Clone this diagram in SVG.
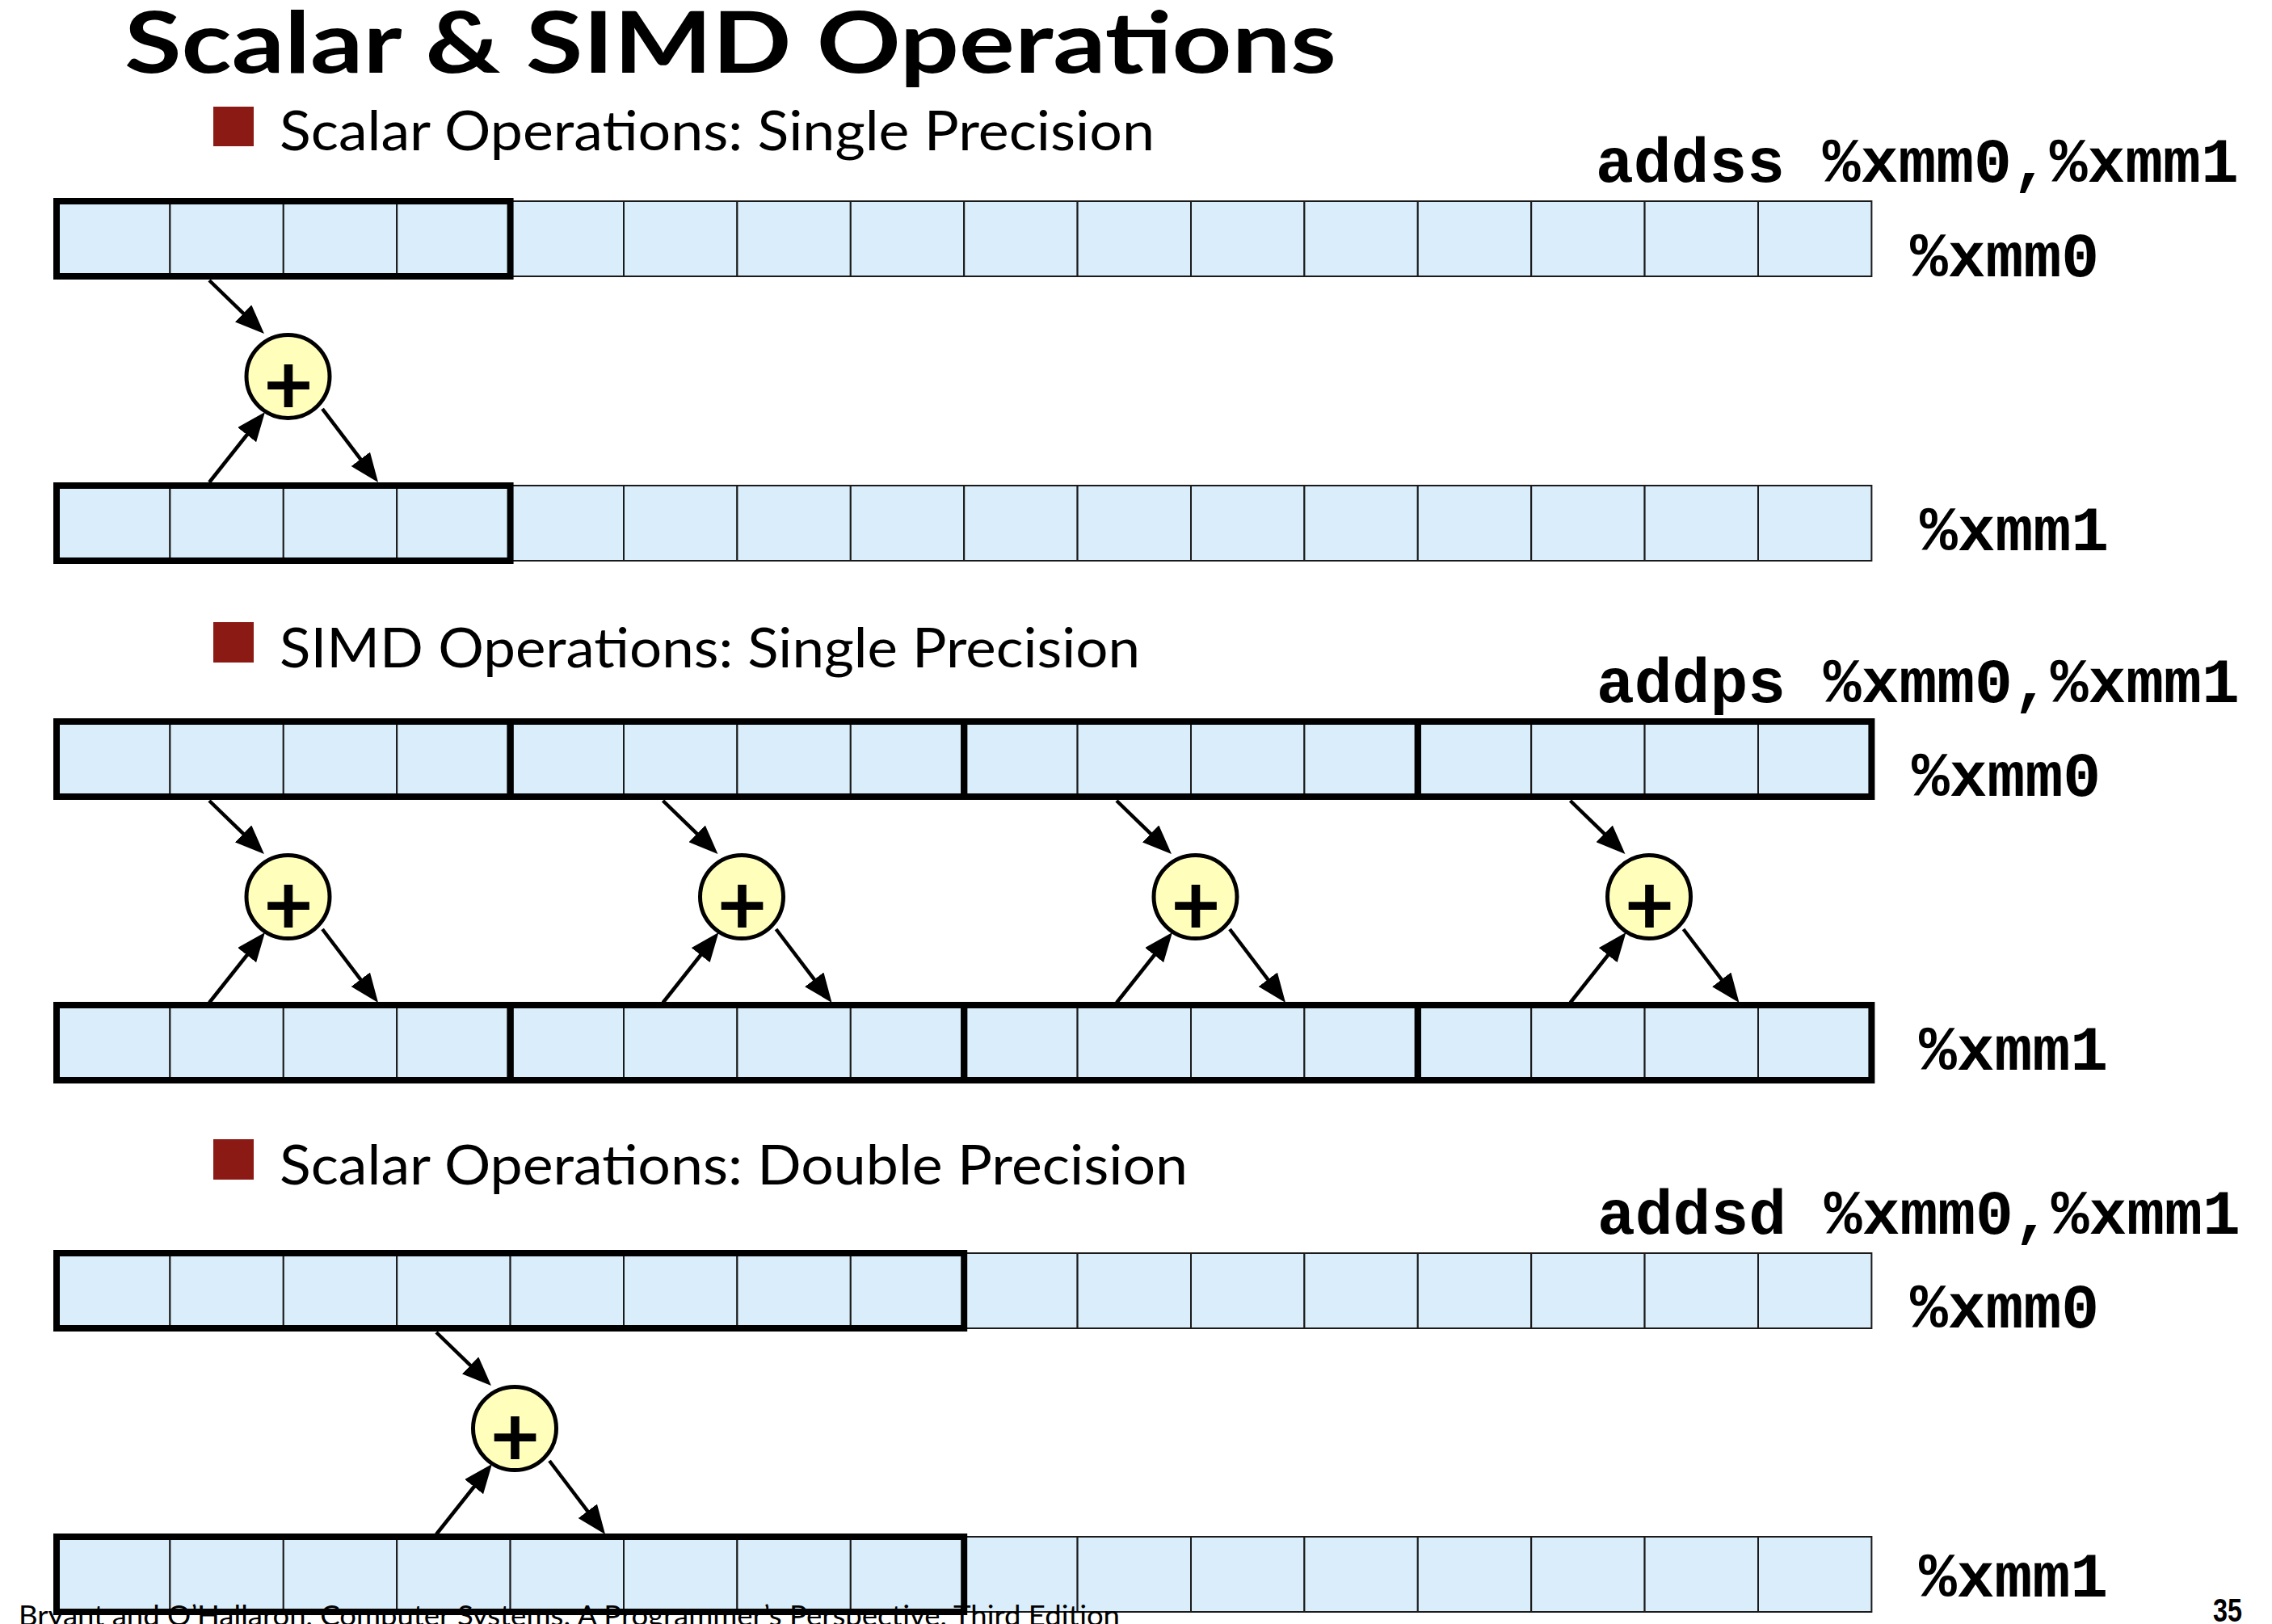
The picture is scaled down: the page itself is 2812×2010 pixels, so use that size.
<svg xmlns="http://www.w3.org/2000/svg" xmlns:xlink="http://www.w3.org/1999/xlink" width="2812" height="2010" viewBox="0 0 2812 2010">
<style>
.title{font-family:Lato,'Open Sans','Liberation Sans',sans-serif;font-weight:700;font-size:106px;fill:#000}
.bt{font-family:Lato,'Open Sans','Liberation Sans',sans-serif;font-size:67px;fill:#000}
.bullet{fill:#8c1a14}
.mono{font-family:'Liberation Mono','Courier New',monospace;font-weight:700;font-size:78px;fill:#000}
.cell{fill:#d9edfb;stroke:#1a1a1a;stroke-width:2}
.thick{fill:none;stroke:#000;stroke-width:8}
.add{fill:#ffffbb;stroke:#000;stroke-width:5}
.plus{font-family:Lato,'Open Sans','Liberation Sans',sans-serif;font-weight:700;font-size:106px;text-anchor:middle;fill:#000}
.arrow{stroke:#000;stroke-width:4.5;fill:none;marker-end:url(#ah)}
.foot{font-family:Lato,'Open Sans','Liberation Sans',sans-serif;font-size:34px;fill:#000}
.pg{font-family:'Liberation Sans',Arial,sans-serif;font-weight:700;font-size:40px;fill:#000}
</style>
<defs>
<marker id="ah" markerWidth="8" markerHeight="6.5" refX="6" refY="3.25" orient="auto" markerUnits="strokeWidth"><path d="M0,0 L8,3.25 L0,6.5 z" fill="#000"/></marker>
<g id="cells">
<rect class="cell" x="70" y="0" width="140.4" height="93"/>
<rect class="cell" x="210.4" y="0" width="140.4" height="93"/>
<rect class="cell" x="350.8" y="0" width="140.4" height="93"/>
<rect class="cell" x="491.2" y="0" width="140.4" height="93"/>
<rect class="cell" x="631.6" y="0" width="140.4" height="93"/>
<rect class="cell" x="772" y="0" width="140.4" height="93"/>
<rect class="cell" x="912.4" y="0" width="140.4" height="93"/>
<rect class="cell" x="1052.8" y="0" width="140.4" height="93"/>
<rect class="cell" x="1193.2" y="0" width="140.4" height="93"/>
<rect class="cell" x="1333.6" y="0" width="140.4" height="93"/>
<rect class="cell" x="1474" y="0" width="140.4" height="93"/>
<rect class="cell" x="1614.4" y="0" width="140.4" height="93"/>
<rect class="cell" x="1754.8" y="0" width="140.4" height="93"/>
<rect class="cell" x="1895.2" y="0" width="140.4" height="93"/>
<rect class="cell" x="2035.6" y="0" width="140.4" height="93"/>
<rect class="cell" x="2176" y="0" width="140.4" height="93"/>
</g>
</defs>
<rect x="0" y="0" width="2812" height="2010" fill="#fff"/>
<text class="title" x="154" y="90" textLength="1500" lengthAdjust="spacingAndGlyphs">Scalar &amp; SIMD Operations</text>

<!-- Section 1 -->
<g id="sec1-heading">
<rect class="bullet" x="264" y="132" width="50" height="49"/>
<text class="bt" x="346" y="186" textLength="1083" lengthAdjust="spacingAndGlyphs">Scalar Operations: Single Precision</text>
<text class="mono" x="1975" y="225">addss %xmm0,%xmm1</text>
</g>
<g id="sec1-xmm0">
<use xlink:href="#cells" href="#cells" y="249"/>
<rect class="thick" x="70" y="249" width="561.6" height="93"/>
<text class="mono" x="2364" y="342">%xmm0</text>
</g>
<g id="sec1-xmm1">
<use xlink:href="#cells" href="#cells" y="601"/>
<rect class="thick" x="70" y="601" width="561.6" height="93"/>
<text class="mono" x="2376" y="681">%xmm1</text>
</g>
<g id="sec1-add">
<circle class="add" cx="356.5" cy="466" r="51.5"/>
<text class="plus" x="357" y="513">+</text>
</g>

<!-- Section 2 -->
<g id="sec2-heading">
<rect class="bullet" x="264" y="770" width="50" height="50"/>
<text class="bt" x="346" y="826" textLength="1065" lengthAdjust="spacingAndGlyphs">SIMD Operations: Single Precision</text>
<text class="mono" x="1976" y="869">addps %xmm0,%xmm1</text>
</g>
<g id="sec2-xmm0">
<use xlink:href="#cells" href="#cells" y="893"/>
<rect class="thick" x="70" y="893" width="561.6" height="93"/>
<rect class="thick" x="631.6" y="893" width="561.6" height="93"/>
<rect class="thick" x="1193.2" y="893" width="561.6" height="93"/>
<rect class="thick" x="1754.8" y="893" width="561.6" height="93"/>
<text class="mono" x="2366" y="985">%xmm0</text>
</g>
<g id="sec2-xmm1">
<use xlink:href="#cells" href="#cells" y="1244"/>
<rect class="thick" x="70" y="1244" width="561.6" height="93"/>
<rect class="thick" x="631.6" y="1244" width="561.6" height="93"/>
<rect class="thick" x="1193.2" y="1244" width="561.6" height="93"/>
<rect class="thick" x="1754.8" y="1244" width="561.6" height="93"/>
<text class="mono" x="2375" y="1324">%xmm1</text>
</g>
<g id="sec2-add0">
<circle class="add" cx="356.5" cy="1110" r="51.5"/>
<text class="plus" x="357" y="1157">+</text>
</g>
<g id="sec2-add1">
<circle class="add" cx="918" cy="1110" r="51.5"/>
<text class="plus" x="918.5" y="1157">+</text>
</g>
<g id="sec2-add2">
<circle class="add" cx="1479.5" cy="1110" r="51.5"/>
<text class="plus" x="1480" y="1157">+</text>
</g>
<g id="sec2-add3">
<circle class="add" cx="2041" cy="1110" r="51.5"/>
<text class="plus" x="2041.5" y="1157">+</text>
</g>

<!-- Section 3 -->
<g id="sec3-heading">
<rect class="bullet" x="264" y="1410" width="50" height="50"/>
<text class="bt" x="346" y="1466" textLength="1124" lengthAdjust="spacingAndGlyphs">Scalar Operations: Double Precision</text>
<text class="mono" x="1977" y="1527">addsd %xmm0,%xmm1</text>
</g>
<g id="sec3-xmm0">
<use xlink:href="#cells" href="#cells" y="1551"/>
<rect class="thick" x="70" y="1551" width="1123.2" height="93"/>
<text class="mono" x="2364" y="1643">%xmm0</text>
</g>
<g id="sec3-xmm1">
<use xlink:href="#cells" href="#cells" y="1902"/>
<rect class="thick" x="70" y="1902" width="1123.2" height="93"/>
<text class="mono" x="2375" y="1976">%xmm1</text>
</g>
<g id="sec3-add">
<circle class="add" cx="637" cy="1768" r="51.5"/>
<text class="plus" x="637.5" y="1815">+</text>
</g>

<g id="connectors">
<path class="arrow" d="M259,347 L320.5,406.7"/>
<path class="arrow" d="M259,597 L322.4,517"/>
<path class="arrow" d="M399,506 L462.6,589.8"/>

<path class="arrow" d="M259,991 L320.5,1050.7"/>
<path class="arrow" d="M259,1241 L322.4,1161"/>
<path class="arrow" d="M399,1150 L462.6,1233.8"/>
<path class="arrow" d="M820.5,991 L882,1050.7"/>
<path class="arrow" d="M820.5,1241 L883.9,1161"/>
<path class="arrow" d="M960.5,1150 L1024.1,1233.8"/>
<path class="arrow" d="M1382,991 L1443.5,1050.7"/>
<path class="arrow" d="M1382,1241 L1445.4,1161"/>
<path class="arrow" d="M1522,1150 L1585.6,1233.8"/>
<path class="arrow" d="M1943.5,991 L2005,1050.7"/>
<path class="arrow" d="M1943.5,1241 L2006.9,1161"/>
<path class="arrow" d="M2083.5,1150 L2147.1,1233.8"/>

<path class="arrow" d="M540,1649 L601.5,1708.7"/>
<path class="arrow" d="M540,1899 L603.4,1819"/>
<path class="arrow" d="M680,1808 L743.6,1891.8"/>
</g>

<text class="foot" x="23" y="2012" textLength="1363" lengthAdjust="spacingAndGlyphs">Bryant and O’Hallaron, Computer Systems: A Programmer’s Perspective, Third Edition</text>
<text class="pg" x="2739" y="2007" textLength="36" lengthAdjust="spacingAndGlyphs">35</text>
</svg>
